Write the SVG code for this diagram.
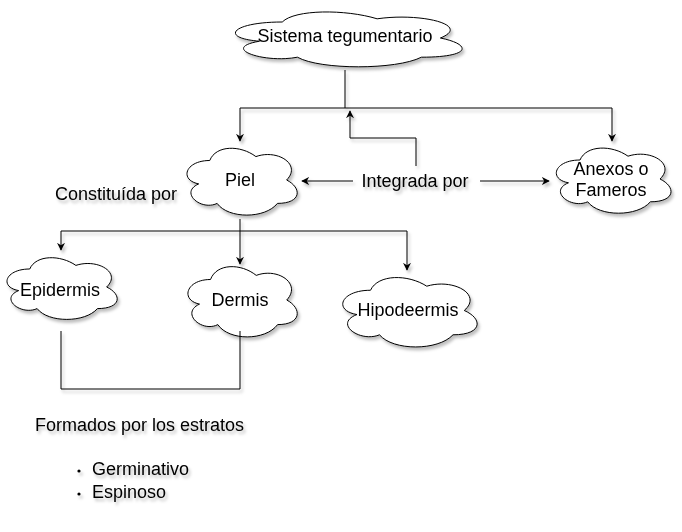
<svg xmlns="http://www.w3.org/2000/svg" width="682" height="532" viewBox="0 0 682 532">
<defs>
<filter id="sh" x="-10%" y="-10%" width="130%" height="140%">
<feDropShadow dx="2" dy="3" stdDeviation="1.5" flood-color="#000" flood-opacity="0.25"/>
</filter>
<marker id="arr" viewBox="0 0 10 10" refX="9" refY="5" markerWidth="8" markerHeight="8" markerUnits="userSpaceOnUse" orient="auto">
<path d="M0,0 L10,5 L0,10 L3,5 Z" fill="#000"/>
</marker>
</defs>
<style>
.c{fill:#fff;stroke:#000;stroke-width:1}
.t{font-family:"Liberation Sans",Arial,sans-serif;font-size:18px;fill:#000}
.l{fill:none;stroke:#000;stroke-width:1}
</style>
<rect width="682" height="532" fill="#fff"/>
<g filter="url(#sh)">
<g id="sistema">
<path class="c" d="M282.25 22 C231.65 22 219 38 259.48 41.2 C219 48.24 264.54 63.6 297.43 57.2 C320.2 70 396.1 70 421.4 57.2 C472 57.2 472 44.4 440.38 38 C472 25.2 421.4 12.4 377.13 18.8 C345.5 9.2 294.9 9.2 282.25 22 Z"/>
<text class="t" x="345" y="42" text-anchor="middle">Sistema tegumentario</text>
</g>
<g id="piel">
<path class="c" d="M209.75 160.5 C185.15 160.5 179 180 198.68 183.9 C179 192.48 201.14 211.2 217.13 203.4 C228.2 219 265.1 219 277.4 203.4 C302 203.4 302 187.8 286.63 180 C302 164.4 277.4 148.8 255.88 156.6 C240.5 144.9 215.9 144.9 209.75 160.5 Z"/>
<text class="t" x="240" y="186" text-anchor="middle">Piel</text>
</g>
<g id="anexos">
<path class="c" d="M580 160 C554.4 160 548 179 568.48 182.8 C548 191.16 571.04 209.4 587.68 201.8 C599.2 217 637.6 217 650.4 201.8 C676 201.8 676 186.6 660 179 C676 163.8 650.4 148.6 628 156.2 C612 144.8 586.4 144.8 580 160 Z"/>
<text class="t" x="611" y="175" text-anchor="middle">Anexos o</text>
<text class="t" x="611" y="196" text-anchor="middle">Fameros</text>
</g>
<g id="epidermis">
<path class="c" d="M29.75 269 C5.15 269 -1 287 18.68 290.6 C-1 298.52 21.14 315.8 37.13 308.6 C48.2 323 85.1 323 97.4 308.6 C122 308.6 122 294.2 106.63 287 C122 272.6 97.4 258.2 75.88 265.4 C60.5 254.6 35.9 254.6 29.75 269 Z"/>
<text class="t" x="60" y="296" text-anchor="middle">Epidermis</text>
</g>
<g id="dermis">
<path class="c" d="M210.5 279.5 C186.1 279.5 180 300 199.52 304.1 C180 313.12 201.96 332.8 217.82 324.6 C228.8 341 265.4 341 277.6 324.6 C302 324.6 302 308.2 286.75 300 C302 283.6 277.6 267.2 256.25 275.4 C241 263.1 216.6 263.1 210.5 279.5 Z"/>
<text class="t" x="240" y="306" text-anchor="middle">Dermis</text>
</g>
<g id="hipodeermis">
<path class="c" d="M370.5 290.25 C340.5 290.25 333 310.5 357 314.55 C333 323.46 360 342.9 379.5 334.8 C393 351 438 351 453 334.8 C483 334.8 483 318.6 464.25 310.5 C483 294.3 453 278.1 426.75 286.2 C408 274.05 378 274.05 370.5 290.25 Z"/>
<text class="t" x="408" y="316" text-anchor="middle">Hipodeermis</text>
</g>
<g id="connectors">
<path class="l" d="M345 70 V108"/>
<path class="l" d="M240 108 H612"/>
<path class="l" d="M240 108 V141" marker-end="url(#arr)"/>
<path class="l" d="M612 108 V141" marker-end="url(#arr)"/>
<path class="l" d="M416 166 V138 H350 V111" marker-end="url(#arr)"/>
<path class="l" d="M353 181 H302" marker-end="url(#arr)"/>
<path class="l" d="M480 181 H549" marker-end="url(#arr)"/>
<path class="l" d="M240 219 V264" marker-end="url(#arr)"/>
<path class="l" d="M61 231 H407"/>
<path class="l" d="M61 231 V250" marker-end="url(#arr)"/>
<path class="l" d="M407 231 V270" marker-end="url(#arr)"/>
<path class="l" d="M61 331 V389 H240 V331"/>
</g>
<g id="labels">
<text class="t" x="116" y="200" text-anchor="middle">Constituída por</text>
<text class="t" x="415" y="187" text-anchor="middle">Integrada por</text>
<text class="t" x="35" y="431">Formados por los estratos</text>
<circle cx="79" cy="471" r="1.6" fill="#000"/>
<text class="t" x="92" y="475">Germinativo</text>
<circle cx="79" cy="494" r="1.6" fill="#000"/>
<text class="t" x="92" y="498">Espinoso</text>
</g>
</g>
</svg>
